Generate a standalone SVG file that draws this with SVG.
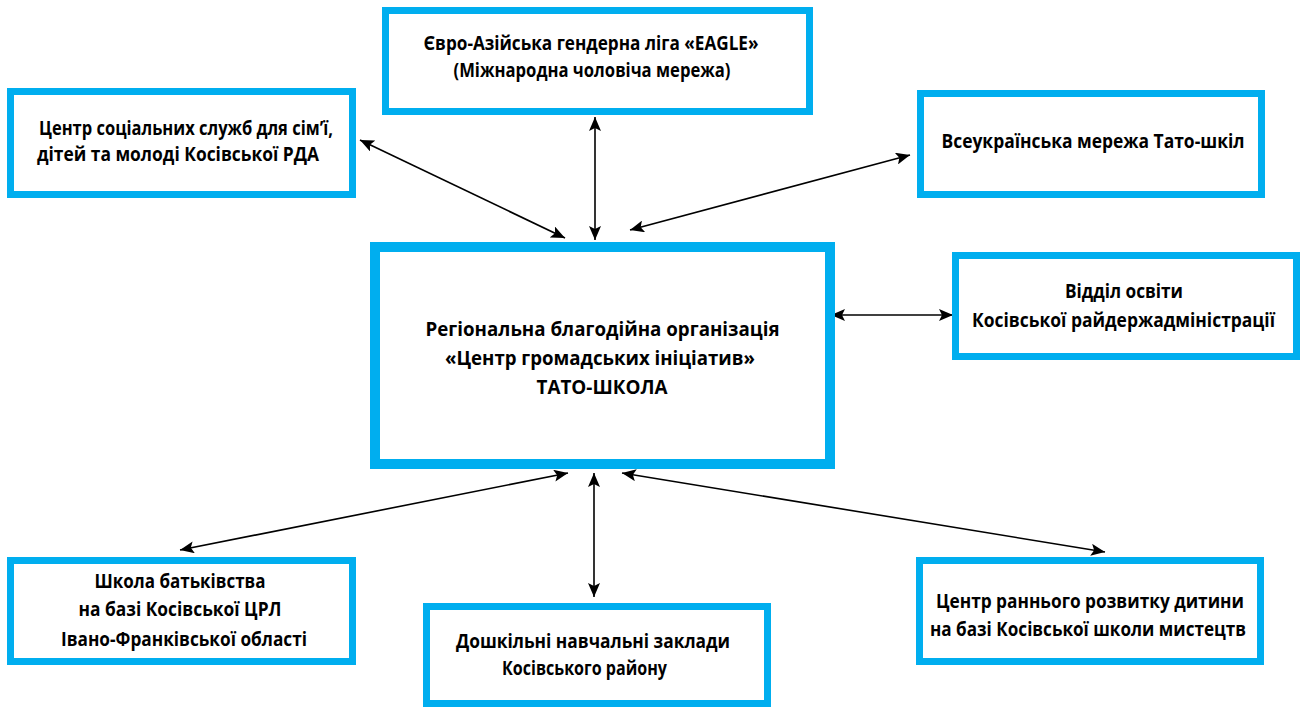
<svg xmlns="http://www.w3.org/2000/svg" width="1301" height="709" viewBox="0 0 1301 709">
<style>
.box{fill:#fff;stroke:#00AEEF;stroke-width:7}
.main{stroke-width:10}
.t{font-family:"Open Sans","Noto Sans",sans-serif;font-weight:bold;font-size:19px;fill:#000;text-anchor:middle}
.c{stroke:#000;stroke-width:1.6;fill:none;marker-start:url(#ah);marker-end:url(#ah)}
</style>
<defs>
<marker id="ah" markerUnits="userSpaceOnUse" markerWidth="16" markerHeight="12" refX="14" refY="6" orient="auto-start-reverse">
<path d="M0,0 L14,6 L0,12 L3,6 Z" fill="#000"/>
</marker>
</defs>
<rect width="1301" height="709" fill="#fff"/>
<g id="connectors">
<line class="c" x1="360" y1="140" x2="565" y2="238"/>
<line class="c" x1="595" y1="117" x2="595" y2="240"/>
<line class="c" x1="910" y1="155" x2="630" y2="230"/>
<line class="c" x1="831" y1="315" x2="953" y2="315"/>
<line class="c" x1="568" y1="473" x2="180" y2="550"/>
<line class="c" x1="594" y1="473" x2="594" y2="597"/>
<line class="c" x1="622" y1="473" x2="1105" y2="552"/>
</g>
<g id="n-social">
<rect class="box" x="10.5" y="91.5" width="342" height="103"/>
<text class="t" x="186" y="135" textLength="294" lengthAdjust="spacingAndGlyphs">Центр соціальних служб для сім’ї,</text>
<text class="t" x="178" y="161" textLength="282" lengthAdjust="spacingAndGlyphs">дітей та молоді Косівської РДА</text>
</g>
<g id="n-eagle">
<rect class="box" x="385.5" y="10.5" width="424" height="101"/>
<text class="t" x="591" y="50" textLength="335" lengthAdjust="spacingAndGlyphs">Євро-Азійська гендерна ліга «EAGLE»</text>
<text class="t" x="592" y="77" textLength="277" lengthAdjust="spacingAndGlyphs">(Міжнародна чоловіча мережа)</text>
</g>
<g id="n-tato">
<rect class="box" x="920.5" y="93.5" width="341" height="101"/>
<text class="t" x="1093" y="148" textLength="303" lengthAdjust="spacingAndGlyphs">Всеукраїнська мережа Тато-шкіл</text>
</g>
<g id="n-main">
<rect class="box main" x="375" y="247" width="455" height="217"/>
<text class="t" x="602.5" y="336" textLength="354" lengthAdjust="spacingAndGlyphs">Регіональна благодійна організація</text>
<text class="t" x="600" y="365" textLength="310" lengthAdjust="spacingAndGlyphs">«Центр громадських ініціатив»</text>
<text class="t" x="602" y="394" textLength="131" lengthAdjust="spacingAndGlyphs">ТАТО-ШКОЛА</text>
</g>
<g id="n-osvita">
<rect class="box" x="955.5" y="255.5" width="341" height="101"/>
<text class="t" x="1124" y="298" textLength="118" lengthAdjust="spacingAndGlyphs">Відділ освіти</text>
<text class="t" x="1123.5" y="327" textLength="303" lengthAdjust="spacingAndGlyphs">Косівської райдержадміністрації</text>
</g>
<g id="n-shkola">
<rect class="box" x="10.5" y="560.5" width="342" height="101"/>
<text class="t" x="180" y="588" textLength="171" lengthAdjust="spacingAndGlyphs">Школа батьківства</text>
<text class="t" x="180" y="616" textLength="203" lengthAdjust="spacingAndGlyphs">на базі Косівської ЦРЛ</text>
<text class="t" x="184" y="646" textLength="246" lengthAdjust="spacingAndGlyphs">Івано-Франківської області</text>
</g>
<g id="n-doshk">
<rect class="box" x="426.5" y="606.5" width="341" height="97"/>
<text class="t" x="593" y="648" textLength="274" lengthAdjust="spacingAndGlyphs">Дошкільні навчальні заклади</text>
<text class="t" x="584.5" y="675" textLength="165" lengthAdjust="spacingAndGlyphs">Косівського району</text>
</g>
<g id="n-rannii">
<rect class="box" x="919.5" y="560.5" width="341" height="101"/>
<text class="t" x="1090" y="608" textLength="308" lengthAdjust="spacingAndGlyphs">Центр раннього розвитку дитини</text>
<text class="t" x="1088" y="636" textLength="316" lengthAdjust="spacingAndGlyphs">на базі Косівської школи мистецтв</text>
</g>
</svg>
